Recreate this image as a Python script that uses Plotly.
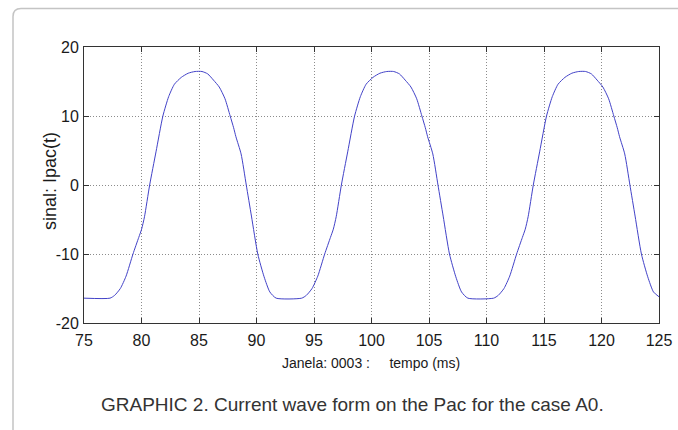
import plotly.graph_objects as go

# Time (ms) and signal Ipac(t), cycle by cycle
t_c1 = [75.0, 77.26, 77.66, 78.16, 78.66, 79.26, 79.76, 80.01, 80.26, 80.71, 81.26, 81.86,
        82.36, 82.86, 83.46, 84.06, 84.66, 85.26, 85.76, 86.26, 86.76, 87.26, 87.71,
        88.01, 88.21, 88.66, 89.11, 89.56, 90.11, 90.66, 91.16, 91.71]
v_c1 = [-16.4, -16.4, -16.0, -15.0, -13.2, -10.0, -7.6, -6.4, -4.6, 0.0, 4.8, 10.0,
        12.8, 14.6, 15.6, 16.2, 16.45, 16.45, 16.1, 15.2, 14.2, 12.5, 10.0,
        8.3, 7.0, 4.5, 0.0, -4.5, -10.0, -13.3, -15.5, -16.4]

t_c2 = [93.93, 94.33, 94.83, 95.33, 95.93, 96.43, 96.68, 96.93, 97.38, 97.93, 98.53,
        99.03, 99.53, 100.13, 100.73, 101.33, 101.93, 102.43, 102.93, 103.43, 103.93,
        104.38, 104.68, 104.88, 105.33, 105.78, 106.23, 106.78, 107.33, 107.83, 108.38]
v_c2 = [-16.4, -16.0, -15.0, -13.2, -10.0, -7.6, -6.4, -4.6, 0.0, 4.8, 10.0,
        12.8, 14.6, 15.6, 16.2, 16.45, 16.45, 16.1, 15.2, 14.2, 12.5,
        10.0, 8.3, 7.0, 4.5, 0.0, -4.5, -10.0, -13.3, -15.5, -16.4]

t_c3 = [110.62, 111.02, 111.52, 112.02, 112.62, 113.12, 113.37, 113.62, 114.07, 114.62,
        115.22, 115.72, 116.22, 116.82, 117.42, 118.02, 118.62, 119.12, 119.62, 120.12,
        120.62, 121.07, 121.37, 121.57, 122.02, 122.47, 122.92, 123.47, 124.02, 124.52, 125.0]
v_c3 = [-16.4, -16.0, -15.0, -13.2, -10.0, -7.6, -6.4, -4.6, 0.0, 4.8,
        10.0, 12.8, 14.6, 15.6, 16.2, 16.45, 16.45, 16.1, 15.2, 14.2,
        12.5, 10.0, 8.3, 7.0, 4.5, 0.0, -4.5, -10.0, -13.3, -15.5, -16.2]

t_ms = t_c1 + t_c2 + t_c3
ipac = v_c1 + v_c2 + v_c3

x_ticks = [75, 80, 85, 90, 95, 100, 105, 110, 115, 120, 125]
y_ticks = [-20, -10, 0, 10, 20]

# the page's body margin is removed below, so the figure sits at (0, 0) in the window
OFF = 0
W, H = 678 - OFF, 430 - OFF
L, T = 84 - OFF, 47 - OFF
pw, ph = 575, 276
R, B = W - L - pw, H - T - ph

def px(x):  # window pixel x -> paper
    return (x - OFF - L) / pw

def py(y):  # window pixel y -> paper
    return 1 - (y - OFF - T) / ph

tick_font = dict(family="Liberation Sans, Arial", size=16, color="#1a1a1a")

fig = go.Figure()
fig.add_trace(go.Scatter(x=t_ms, y=ipac, mode="lines",
                         line=dict(color="#4242c8", width=1, shape="spline", smoothing=0.6),
                         hoverinfo="skip", showlegend=False))

axis_common = dict(showline=True, linecolor="#333333", linewidth=1, mirror="ticks",
                   ticks="inside", ticklen=5, tickcolor="#333333", tickwidth=1,
                   showgrid=True, gridcolor="#8c8c8c", griddash="1px,2px", gridwidth=1,
                   zeroline=False, tickfont=tick_font, automargin=False)

fig.update_xaxes(range=[75, 125], tickvals=x_ticks, ticktext=[str(v) for v in x_ticks],
                 ticklabelstandoff=3, **axis_common)
fig.update_yaxes(range=[-20, 20], tickvals=y_ticks, ticktext=[str(v) for v in y_ticks],
                 ticklabelstandoff=1, **axis_common)

# outer rounded frame (cropped on right and bottom)
fx = px(13)
fy = py(8.5)
rx, ry = 8 / pw, 8 / ph
frame_path = (f"M {fx},{py(450)} L {fx},{fy - ry} "
              f"Q {fx},{fy} {fx + rx},{fy} L {px(700)},{fy}")

fig.update_layout(
    width=W, height=H,
    margin=dict(l=L, r=R, t=T, b=B, autoexpand=False),
    paper_bgcolor="white", plot_bgcolor="white",
    shapes=[dict(type="path", path=frame_path, xref="paper", yref="paper",
                 line=dict(color="#c4c4c4", width=1.5), layer="below")],
    annotations=[
        dict(text="sinal: Ipac(t)", x=px(50), y=py(181), xref="paper", yref="paper",
             xanchor="center", yanchor="middle", textangle=-90, showarrow=False,
             font=dict(family="Liberation Sans, Arial", size=18, color="#1a1a1a")),
        dict(text="Janela: 0003 :\u00a0\u00a0\u00a0\u00a0 tempo (ms)", x=px(371), y=py(363),
             xref="paper", yref="paper", xanchor="center", yanchor="middle", showarrow=False,
             font=dict(family="Liberation Sans, Arial", size=14, color="#1a1a1a")),
        dict(text="GRAPHIC 2. Current wave form on the Pac for the case A0.",
             x=px(352), y=py(404), xref="paper", yref="paper",
             xanchor="center", yanchor="middle", showarrow=False,
             font=dict(family="Liberation Sans, Arial", size=19, color="#333333")),
    ],
)

fig.write_html(
    "out.html",
    config={"displayModeBar": False},
    post_script="document.body.style.margin='0';"
                "document.documentElement.style.overflow='hidden';"
                "document.body.style.overflow='hidden';",
)
